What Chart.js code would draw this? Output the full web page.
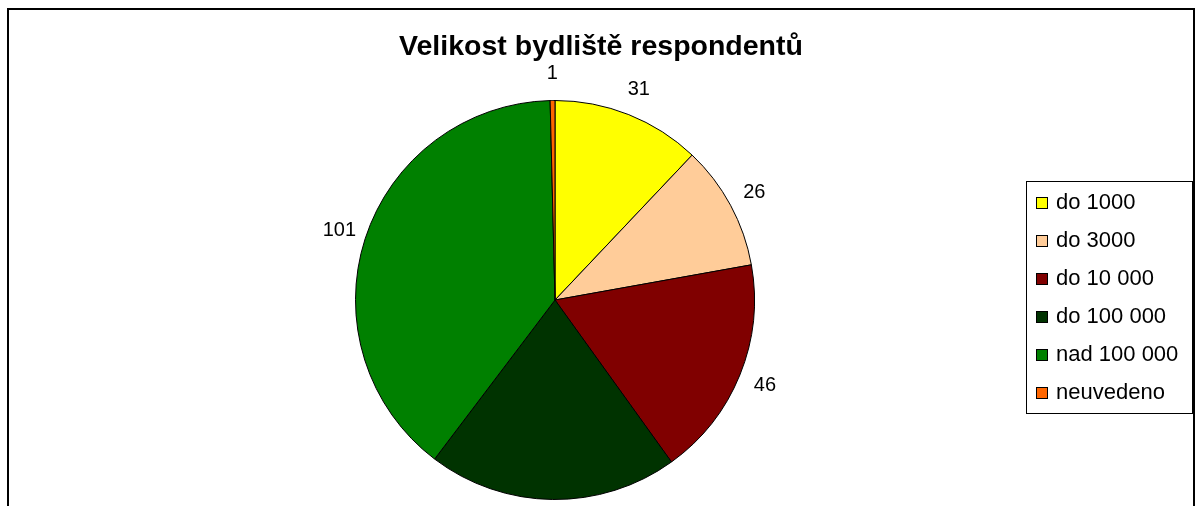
<!DOCTYPE html>
<html>
<head>
<meta charset="utf-8">
<script src="https://cdn.jsdelivr.net/npm/chart.js@4/dist/chart.umd.min.js"></script>
<style>
  html, body { margin: 0; padding: 0; background: #fff; overflow: hidden; }
  #wrap { position: absolute; left: 0; top: 0; width: 1196px; height: 560px; }
</style>
</head>
<body>
<div id="wrap"><canvas id="pieChart" width="1196" height="560"></canvas></div>
<script>
// Velikost bydliště respondentů
const chartTitle = "Velikost bydliště respondentů";
const sizeLabels = ["do 1000", "do 3000", "do 10 000", "do 100 000", "nad 100 000", "neuvedeno"];
const sizeCounts = [31, 26, 46, 52, 101, 1];
const sliceColors = ["#ffff00", "#ffcc99", "#800000", "#003300", "#008000", "#ff6600"];

const FONT = "'Liberation Sans', Arial, sans-serif";

// frame, title, value labels and the boxed legend
const excelLook = {
  id: "excelLook",
  beforeDraw(chart) {
    const c = chart.ctx;
    c.save();
    c.strokeStyle = "#000";
    c.lineWidth = 2;
    c.strokeRect(8, 9, 1186, 600);
    c.restore();
  },
  afterDraw(chart) {
    const c = chart.ctx;
    c.save();
    // title
    c.fillStyle = "#000";
    c.font = "bold 28.5px " + FONT;
    c.textAlign = "center";
    c.textBaseline = "middle";
    c.fillText(chartTitle, 601, 47);

    // value labels outside the slices
    c.font = "20px " + FONT;
    const meta = chart.getDatasetMeta(0);
    meta.data.forEach((arc, i) => {
      const p = arc.getProps(["x", "y", "startAngle", "endAngle", "outerRadius"], true);
      const mid = (p.startAngle + p.endAngle) / 2;
      const r = p.outerRadius + 27;
      c.fillText(String(sizeCounts[i]), p.x + Math.cos(mid) * r, p.y + Math.sin(mid) * r);
    });

    // legend
    const lx = 1026, ly = 181, lw = 166, lh = 232;
    c.lineWidth = 1;
    c.strokeStyle = "#000";
    c.strokeRect(lx + 0.5, ly + 0.5, lw, lh);
    c.font = "22px " + FONT;
    c.textAlign = "left";
    sizeLabels.forEach((lab, i) => {
      const y = ly + 21 + i * 38;
      c.fillStyle = sliceColors[i];
      c.fillRect(lx + 10, y - 5, 11, 11);
      c.strokeRect(lx + 10.5, y - 4.5, 11, 11);
      c.fillStyle = "#000";
      c.fillText(lab, lx + 30, y + 1);
    });
    c.restore();
  }
};

const pieCtx = document.getElementById("pieChart").getContext("2d");
new Chart(pieCtx, {
  type: "pie",
  data: {
    labels: sizeLabels,
    datasets: [
      {
        data: sizeCounts,
        backgroundColor: sliceColors,
        borderColor: "#000",
        borderWidth: 1,
      },
    ],
  },
  options: {
    responsive: false,
    animation: false,
    layout: {
      padding: { left: 355, right: 441, top: 100, bottom: 60 },
    },
    plugins: {
      legend: { display: false },
      title: { display: false },
      tooltip: { enabled: false },
    },
  },
  plugins: [excelLook],
});
</script>
</body>
</html>
